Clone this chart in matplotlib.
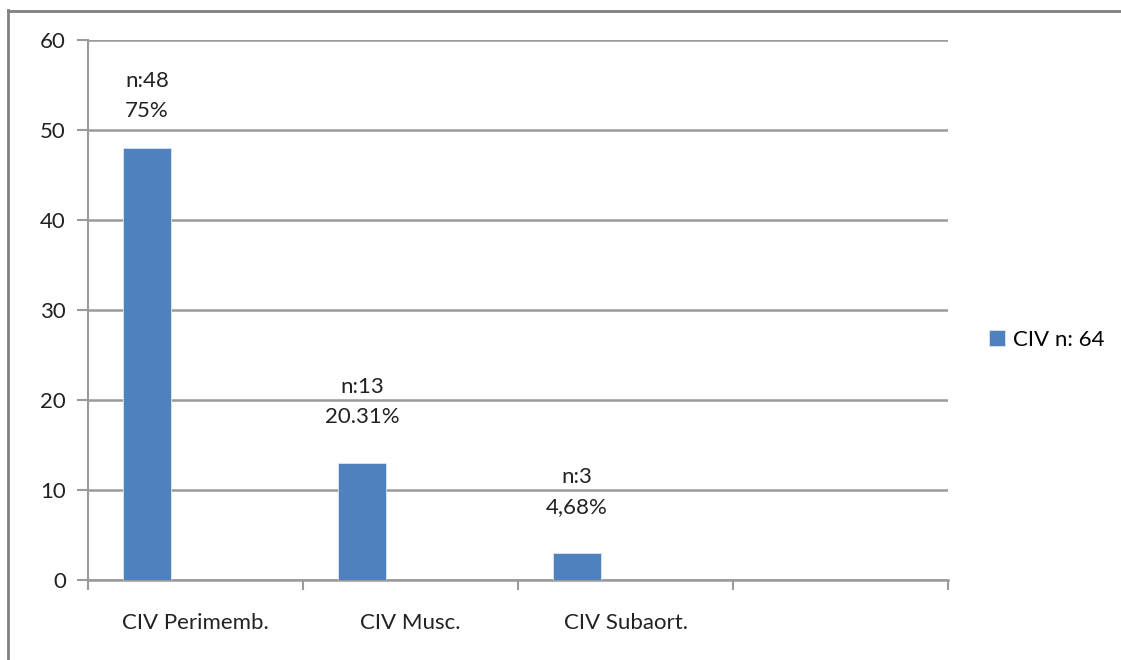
import matplotlib.pyplot as plt
from matplotlib.lines import Line2D

categories = ["CIV Perimemb.", "CIV Musc.", "CIV Subaort.", ""]
values = [48, 13, 3, None]
labels = ["n:48\n75%", "n:13\n20.31%", "n:3\n4,68%", None]
series_name = "CIV n: 64"
yticks = [0, 10, 20, 30, 40, 50, 60]

plt.rcParams["font.family"] = ["Lato", "DejaVu Sans"]

W, H = 1121, 660
fig = plt.figure(figsize=(W / 100, H / 100), dpi=100)
ax = fig.add_axes([88 / W, 1 - 580 / H, 860 / W, 540 / H])

blue = "#4f81bd"
grid = "#9a9a9a"
txt = "#222222"
fs = 16
off, bw = -0.225, 0.22

xs = [i for i, v in enumerate(values) if v is not None]
vs = [v for v in values if v is not None]
bars = ax.bar([x + off for x in xs], vs, width=bw, color=blue,
              edgecolor="#dce6f2", linewidth=0.6, label=series_name, zorder=3)

for x, v, lab in zip(xs, vs, labels):
    ax.text(x + off, min(v + 4, 51), lab, ha="center", va="bottom",
            fontsize=fs, linespacing=1.65, color=txt, zorder=4)

ax.set_xlim(-0.5, len(categories) - 0.5)
ax.set_ylim(0, 60)
ax.set_yticks(yticks)
ax.tick_params(axis="y", length=8, color=grid, width=1.5, labelsize=fs,
               pad=8, labelcolor=txt)
ax.set_xticks(range(len(categories)))
ax.set_xticklabels(categories)
ax.tick_params(axis="x", length=0, labelsize=fs, pad=24, labelcolor=txt)
# boundary ticks between categories
ax.set_xticks([i - 0.5 for i in range(len(categories) + 1)], minor=True)
ax.tick_params(axis="x", which="minor", length=7, color=grid, width=1.5)

ax.grid(axis="y", color=grid, linewidth=1.8, zorder=0)
for s in ["top", "right"]:
    ax.spines[s].set_visible(False)
ax.spines["left"].set_color(grid)
ax.spines["bottom"].set_color(grid)
ax.spines["left"].set_linewidth(1.5)
ax.spines["bottom"].set_linewidth(1.8)

fig.legend(handles=[bars], labels=[series_name], loc="center left",
           bbox_to_anchor=(969 / W, 1 - 340 / H), frameon=False,
           fontsize=fs, handlelength=0.7, handleheight=0.7, handletextpad=0.4)

# outer frame (top and left edges only)
fig.add_artist(Line2D([8 / W, 8 / W], [0, 1 - 10 / H], transform=fig.transFigure,
                      color="#808080", linewidth=2))
fig.add_artist(Line2D([8 / W, 1], [1 - 11 / H, 1 - 11 / H], transform=fig.transFigure,
                      color="#808080", linewidth=2))

fig.savefig("out.png", dpi=100)
